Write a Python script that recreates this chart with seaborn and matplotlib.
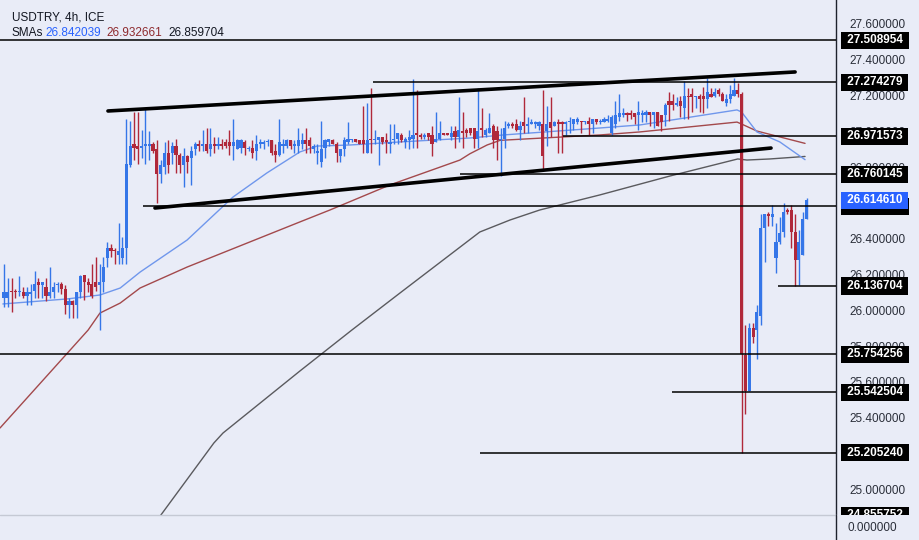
import numpy as np
import pandas as pd
import matplotlib
matplotlib.use("Agg")
import matplotlib.pyplot as plt
import seaborn as sns


# 4h candles, USDTRY (one value per bar)
opens = [
    26.07, 26.07, 26.11, 26.11, 26.10, 26.10, 26.08, 26.09, 26.11, 26.16,
    26.14, 26.13, 26.08, 26.10, 26.14, 26.15, 26.12, 26.03, 26.05, 26.03,
    26.10, 26.20, 26.16, 26.15, 26.16, 26.14, 26.16, 26.29, 26.35, 26.34,
    26.31, 26.29, 26.35, 26.81, 26.93, 26.92, 26.91, 26.92, 26.92, 26.93,
    26.90, 26.76, 26.80, 26.88, 26.88, 26.92, 26.87, 26.81, 26.86, 26.85,
    26.90, 26.93, 26.92, 26.93, 26.90, 26.93, 26.92, 26.93, 26.94, 26.94,
    26.92, 26.90, 26.91, 26.94, 26.90, 26.91, 26.89, 26.93, 26.93, 26.94,
    26.95, 26.89, 26.87, 26.92, 26.92, 26.95, 26.92, 26.92, 26.93, 26.95,
    26.95, 26.90, 26.88, 26.83, 26.91, 26.94, 26.95, 26.93, 26.86, 26.90,
    26.94, 26.95, 26.96, 26.95, 26.95, 26.88, 26.96, 26.95, 26.95, 26.97,
    26.95, 26.93, 26.95, 26.96, 26.98, 26.94, 26.95, 26.96, 26.99, 26.98,
    26.97, 26.99, 26.98, 26.94, 26.96, 26.99, 26.99, 26.97, 27.00, 26.97,
    27.00, 27.01, 27.02, 27.02, 26.96, 27.02, 26.98, 26.99, 27.03, 27.00,
    26.95, 26.96, 27.03, 27.04, 27.04, 27.01, 27.05, 27.03, 27.04, 27.04,
    27.03, 27.04, 27.00, 27.05, 27.03, 27.05, 27.05, 27.04, 27.05, 27.04,
    27.05, 27.06, 27.05, 27.06, 27.04, 27.07, 27.05, 27.05, 27.06, 26.99,
    27.04, 27.08, 27.09, 27.10, 27.10, 27.10, 27.09, 27.09, 27.09, 27.11,
    27.09, 27.11, 27.09, 27.09, 27.17, 27.17, 27.15, 27.17, 27.13, 27.20,
    27.21, 27.19, 27.20, 27.20, 27.18, 27.21, 27.20, 27.23, 27.21, 27.16,
    27.18, 27.20, 27.23, 27.21, 25.75, 25.55, 25.90, 25.89, 25.97, 26.46,
    26.54, 26.52, 26.29, 26.38, 26.44, 26.56, 26.56, 26.44, 26.28, 26.31,
    26.51,
]
highs = [
    26.26, 26.18, 26.18, 26.12, 26.19, 26.13, 26.13, 26.15, 26.22, 26.18,
    26.16, 26.18, 26.24, 26.16, 26.16, 26.16, 26.14, 26.07, 26.06, 26.10,
    26.20, 26.20, 26.18, 26.26, 26.30, 26.26, 26.30, 26.38, 26.37, 26.35,
    26.49, 26.41, 27.07, 27.06, 27.11, 27.11, 27.01, 27.13, 27.00, 26.94,
    26.95, 26.84, 26.94, 26.95, 26.94, 26.96, 26.88, 26.91, 26.87, 26.92,
    26.94, 26.95, 27.01, 27.02, 27.02, 26.97, 26.97, 26.96, 26.96, 27.01,
    27.07, 26.96, 26.96, 26.95, 26.92, 26.95, 26.98, 26.96, 26.95, 26.96,
    26.95, 26.93, 27.07, 26.96, 26.96, 26.95, 26.95, 27.02, 26.99, 27.02,
    26.97, 26.93, 26.93, 27.06, 26.96, 26.96, 26.96, 26.94, 26.90, 26.97,
    27.05, 26.96, 26.96, 26.95, 27.14, 27.16, 27.24, 27.01, 26.97, 26.97,
    26.99, 27.04, 27.04, 26.99, 26.99, 26.97, 27.01, 27.29, 27.23, 26.99,
    26.99, 26.99, 27.03, 27.11, 27.06, 26.99, 26.99, 27.03, 27.03, 27.19,
    27.11, 27.02, 27.02, 27.02, 27.24, 27.13, 27.02, 27.10, 27.04, 27.03,
    27.02, 27.06, 27.05, 27.05, 27.07, 27.06, 27.19, 27.08, 27.07, 27.06,
    27.06, 27.23, 27.14, 27.19, 27.06, 27.07, 27.06, 27.06, 27.08, 27.07,
    27.08, 27.06, 27.06, 27.08, 27.07, 27.07, 27.07, 27.08, 27.09, 27.09,
    27.17, 27.21, 27.13, 27.11, 27.12, 27.10, 27.17, 27.12, 27.12, 27.11,
    27.11, 27.11, 27.09, 27.16, 27.22, 27.21, 27.19, 27.20, 27.28, 27.24,
    27.24, 27.20, 27.21, 27.25, 27.30, 27.24, 27.24, 27.24, 27.22, 27.21,
    27.26, 27.30, 27.27, 27.22, 25.92, 25.93, 25.93, 26.03, 26.54, 26.54,
    26.55, 26.59, 26.49, 26.52, 26.60, 26.57, 26.59, 26.54, 26.45, 26.55,
    26.63,
]
lows = [
    26.02, 26.02, 25.99, 26.07, 26.08, 26.07, 26.03, 26.03, 26.07, 26.07,
    26.07, 26.05, 26.07, 26.07, 26.10, 26.09, 25.98, 25.96, 25.96, 25.96,
    26.07, 26.06, 26.10, 26.07, 26.11, 25.89, 26.10, 26.24, 26.30, 26.26,
    26.26, 26.26, 26.26, 26.80, 26.84, 26.82, 26.85, 26.82, 26.84, 26.88,
    26.60, 26.71, 26.76, 26.77, 26.82, 26.77, 26.77, 26.69, 26.77, 26.70,
    26.87, 26.89, 26.89, 26.88, 26.86, 26.88, 26.90, 26.90, 26.91, 26.87,
    26.84, 26.90, 26.88, 26.87, 26.89, 26.85, 26.84, 26.91, 26.90, 26.92,
    26.87, 26.83, 26.86, 26.88, 26.91, 26.90, 26.88, 26.88, 26.90, 26.88,
    26.88, 26.88, 26.82, 26.80, 26.85, 26.92, 26.93, 26.83, 26.83, 26.86,
    26.93, 26.94, 26.94, 26.93, 26.88, 26.88, 26.88, 26.93, 26.81, 26.93,
    26.88, 26.88, 26.93, 26.93, 26.94, 26.91, 26.90, 26.91, 26.91, 26.96,
    26.96, 26.95, 26.86, 26.94, 26.95, 26.98, 26.98, 26.95, 26.91, 26.94,
    26.91, 26.97, 26.98, 26.91, 26.91, 26.97, 26.97, 26.99, 26.91, 26.84,
    26.75, 26.91, 27.02, 27.02, 27.00, 26.95, 26.99, 26.99, 27.04, 27.02,
    27.01, 26.78, 26.92, 26.97, 27.03, 26.88, 26.88, 26.98, 26.99, 27.01,
    27.04, 26.99, 27.04, 26.98, 26.99, 27.04, 27.04, 27.05, 27.05, 26.98,
    27.02, 27.06, 27.08, 27.06, 27.07, 27.04, 27.01, 27.05, 27.05, 27.03,
    27.02, 27.03, 27.00, 27.03, 27.06, 27.12, 27.14, 27.08, 27.07, 27.07,
    27.11, 27.13, 27.11, 27.10, 27.13, 27.19, 27.19, 27.20, 27.17, 27.14,
    27.16, 27.20, 27.19, 25.205, 25.42, 25.55, 25.82, 25.73, 25.92, 26.27,
    26.47, 26.47, 26.21, 26.37, 26.41, 26.54, 26.35, 26.136704, 26.14, 26.31,
    26.51,
]
closes = [
    26.10, 26.10, 26.10, 26.10, 26.11, 26.08, 26.10, 26.10, 26.15, 26.14,
    26.16, 26.08, 26.10, 26.13, 26.15, 26.12, 26.03, 26.05, 26.03, 26.10,
    26.19, 26.16, 26.14, 26.08, 26.13, 26.16, 26.24, 26.35, 26.33, 26.33,
    26.33, 26.35, 26.82, 26.92, 26.91, 26.90, 26.92, 26.93, 26.93, 26.89,
    26.76, 26.81, 26.88, 26.81, 26.92, 26.87, 26.81, 26.86, 26.83, 26.89,
    26.93, 26.92, 26.93, 26.89, 26.93, 26.92, 26.93, 26.92, 26.92, 26.92,
    26.94, 26.95, 26.95, 26.91, 26.91, 26.88, 26.93, 26.94, 26.94, 26.945,
    26.88, 26.87, 26.94, 26.93, 26.95, 26.92, 26.93, 26.95, 26.95, 26.93,
    26.92, 26.92, 26.89, 26.90, 26.95, 26.96, 26.93, 26.88, 26.90, 26.95,
    26.96, 26.96, 26.94, 26.93, 26.93, 26.95, 26.95, 26.96, 26.97, 26.94,
    26.94, 26.94, 26.96, 26.99, 26.95, 26.96, 26.97, 26.98, 26.98, 26.97,
    26.98, 26.97, 26.93, 26.96, 26.99, 26.98, 26.98, 26.99, 26.97, 27.01,
    26.99, 26.99, 26.99, 26.96, 27.00, 27.01, 27.01, 27.02, 26.95, 26.95,
    26.96, 27.02, 27.04, 27.03, 27.01, 27.03, 27.03, 27.04, 27.05, 27.05,
    27.05, 26.86, 27.04, 27.02, 27.05, 27.04, 27.04, 27.05, 27.06, 27.07,
    27.07, 27.05, 27.05, 27.04, 27.07, 27.05, 27.06, 27.07, 27.07, 27.08,
    27.09, 27.10, 27.10, 27.09, 27.09, 27.08, 27.11, 27.10, 27.11, 27.09,
    27.11, 27.03, 27.05, 27.15, 27.15, 27.15, 27.16, 27.14, 27.20, 27.19,
    27.19, 27.20, 27.18, 27.18, 27.22, 27.19, 27.22, 27.21, 27.17, 27.18,
    27.21, 27.23, 27.21, 25.754, 25.55, 25.90, 25.85, 25.99, 26.46, 26.54,
    26.53, 26.54, 26.38, 26.43, 26.55, 26.55, 26.44, 26.28, 26.38, 26.51,
    26.61461,
]

# moving averages, sampled along the curves (bar index, price)
sma_fast_bar = [-0.3, 16.5, 25.1, 30.4, 35.6, 47.9, 59.9, 68.8, 77.4, 81.9, 90.5,
                103.6, 121.9, 130.6, 155.9, 166.4, 191.8, 193.0, 197.0, 203.0, 209.6]
sma_fast_val = [26.036, 26.064, 26.086, 26.125, 26.214, 26.393, 26.633, 26.768, 26.885,
                26.918, 26.924, 26.941, 26.963, 26.980, 27.019, 27.036, 27.120, 27.108,
                26.997, 26.941, 26.842]
sma_mid_bar = [-1.05, 22.0, 25.1, 30.4, 35.6, 47.9, 77.4, 85.3, 101.0, 119.3, 121.9,
               126.4, 129.8, 141.0, 155.9, 166.4, 191.8, 193.0, 197.0, 209.6]
sma_mid_val = [25.343, 25.890, 25.985, 26.041, 26.125, 26.242, 26.494, 26.561, 26.701,
               26.840, 26.875, 26.924, 26.950, 26.963, 26.980, 26.997, 27.052, 27.041,
               27.002, 26.933]
sma_slow_bar = [39.5, 54.9, 57.3, 77.4, 91.0, 103.6, 124.5, 132.4, 140.2, 155.9,
                174.3, 192.0, 194.4, 200.4, 209.6]
sma_slow_val = [24.812, 25.259, 25.315, 25.661, 25.890, 26.097, 26.438, 26.505, 26.561,
                26.645, 26.751, 26.846, 26.840, 26.846, 26.860]
sma_legend = ["26.842039", "26.932661", "26.859704"]

# horizontal levels and the bar they start from (None = whole width)
levels = [27.508954, 27.274279, 26.971573, 26.760145, 26.581574,
          26.136704, 25.754256, 25.542504, 25.205240]
level_start_bar = [None, 96.5, 146.3, 119.3, 36.4, 202.5, None, 174.8, 124.5]
last_price = 26.614610
bottom_level = 24.855752

# channel lines (bar, price)
upper_trend_bar = [27.2, 207.0]
upper_trend_val = [27.114, 27.332]
lower_trend_bar = [39.5, 200.7]
lower_trend_val = [26.572, 26.907]

y_ticks = [25.0, 25.2, 25.4, 25.6, 25.8, 26.0, 26.2, 26.4, 26.6, 26.8, 27.0, 27.2, 27.4, 27.6]


BG = "#e9ecf7"
UP = "#3576e8"
DOWN = "#b0283a"

sns.set_theme(style="white", rc={"axes.facecolor": BG, "figure.facecolor": BG})
plt.rcParams["font.family"] = ["Liberation Sans", "DejaVu Sans"]

fig = plt.figure(figsize=(9.19, 5.40), dpi=100)
ax = fig.add_axes([0, 25 / 540, 836 / 919, 515 / 540])
ax.set_facecolor(BG)

bars = np.arange(len(opens))
o = np.array(opens)
c = np.array(closes)
colors = [UP if cc >= oo else DOWN for oo, cc in zip(o, c)]

# moving averages
sns.lineplot(x=sma_slow_bar, y=sma_slow_val, ax=ax, color="#5a5a5e", lw=1.0, zorder=2)
sns.lineplot(x=sma_mid_bar, y=sma_mid_val, ax=ax, color="#a3494c", lw=1.0, zorder=2)
sns.lineplot(x=sma_fast_bar, y=sma_fast_val, ax=ax, color="#7097ec", lw=1.0, zorder=2)

# candles
ax.vlines(bars, lows, highs, colors=colors, lw=1.0, zorder=3)
body = np.maximum(np.abs(c - o), 0.008)
ax.bar(bars, body, bottom=np.minimum(o, c), width=0.82, color=colors, lw=0, zorder=3)

xmin, xmax = -1.05, 217.7
ax.set_xlim(xmin, xmax)
ax.set_ylim(24.857, 27.734)

for lv, st in zip(levels, level_start_bar):
    ax.hlines(lv, xmin if st is None else st, xmax, color="black", lw=1.1, zorder=4)

ax.plot(upper_trend_bar, upper_trend_val, color="black", lw=2.6, solid_capstyle="round", zorder=4)
ax.plot(lower_trend_bar, lower_trend_val, color="black", lw=2.6, solid_capstyle="round", zorder=4)

ax.set_xticks([])
ax.yaxis.tick_right()
ax.set_yticks(y_ticks)
ax.set_yticklabels([f"{t:.6f}" for t in y_ticks])
ax.tick_params(axis="y", length=0, pad=10, labelsize=8.5, labelcolor="#2a2e39")
for s in ["left", "top", "bottom"]:
    ax.spines[s].set_visible(False)
ax.spines["right"].set_color("#1e222d")
ax.spines["right"].set_linewidth(1.0)

# price tags on the right scale
tag_x = 1.0 + 8 / 836
trans = ax.get_yaxis_transform()
tag_kw = dict(transform=trans, ha="left", va="center", color="white", fontsize=8.5,
              fontweight="bold", clip_on=False)
for lv in levels + [bottom_level]:
    ax.text(tag_x, lv, f" {lv:.6f} ", zorder=6,
            bbox=dict(boxstyle="square,pad=0.22", fc="black", ec="none"), **tag_kw)
ax.text(tag_x, last_price, f" {last_price:.6f} ", zorder=7,
        bbox=dict(boxstyle="square,pad=0.22", fc="#2962ff", ec="none"), **tag_kw)

# empty lower pane (covers the clipped bottom tag)
ax2 = fig.add_axes([0, 0, 1, 25 / 540], zorder=5)
ax2.set_facecolor(BG)
ax2.set_xlim(0, 919)
ax2.set_ylim(0, 25)
ax2.set_xticks([])
ax2.set_yticks([])
for s in ax2.spines.values():
    s.set_visible(False)
ax2.plot([0, 836], [25, 25], color="#c5c9d4", lw=1.0, clip_on=False)
ax2.plot([836, 836], [0, 25], color="#1e222d", lw=1.0, clip_on=False)
ax2.text(847, 12, "0.000000", ha="left", va="center", fontsize=8.5, color="#2a2e39")

# header
fig.text(12 / 919, 1 - 18 / 540, "USDTRY, 4h, ICE", ha="left", va="center",
         fontsize=8.5, color="#131722")
fig.text(12 / 919, 1 - 33 / 540, "SMAs", ha="left", va="center", fontsize=8.5, color="#131722")
for xpx, txt, col in zip([45, 106, 168], sma_legend, ["#2962ff", "#8e2a2e", "#131722"]):
    fig.text(xpx / 919, 1 - 33 / 540, txt, ha="left", va="center", fontsize=8.5, color=col)

fig.savefig("out.png", dpi=100, facecolor=BG)
